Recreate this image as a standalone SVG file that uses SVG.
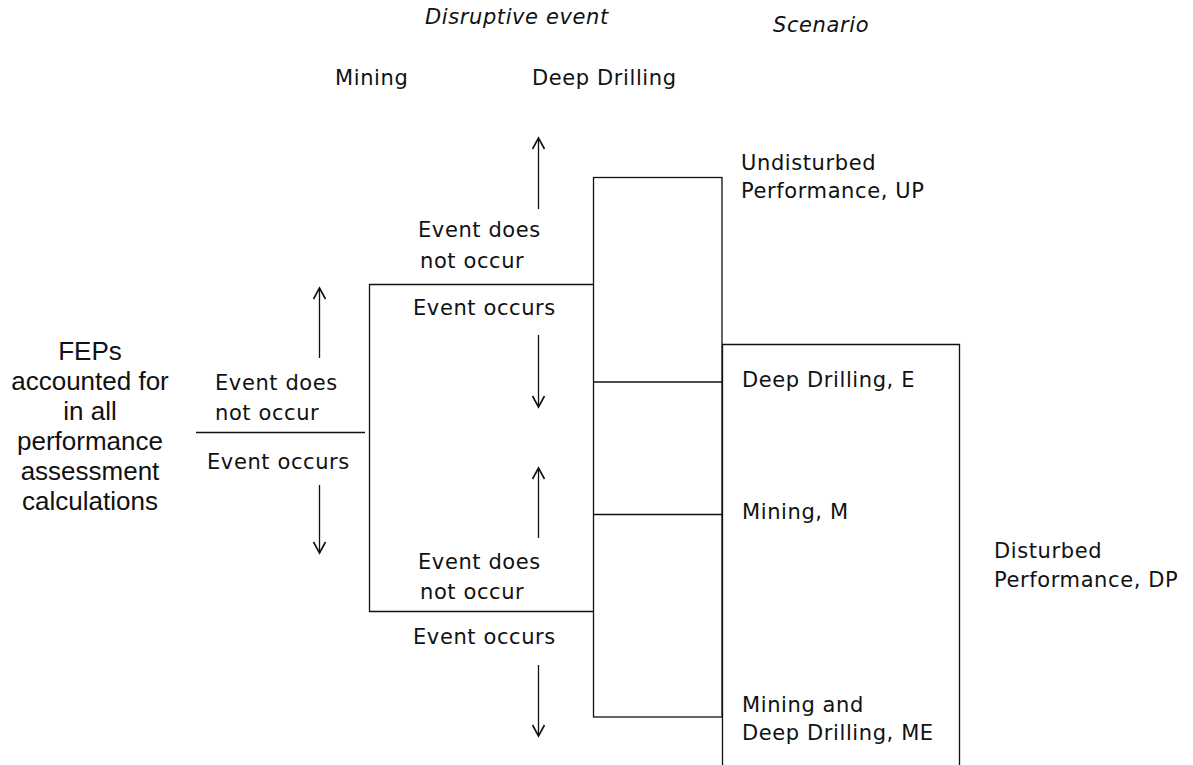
<svg xmlns="http://www.w3.org/2000/svg" width="1193" height="765" viewBox="0 0 1193 765">
  <style>
    .lbl { font-family: "DejaVu Sans", "Liberation Sans", sans-serif; font-size: 21px; letter-spacing: 0.6px; fill: #111; }
    .hdr { font-style: italic; }
    .fep { font-family: "Liberation Sans", Arial, sans-serif; font-size: 26px; fill: #111; text-anchor: middle; }
    .ln { stroke: #111; stroke-width: 1.3; fill: none; }
    .arr { stroke: #111; stroke-width: 1.3; fill: none; marker-end: url(#vhead); }
  </style>
  <defs>
    <!-- open V arrowhead -->
    <marker id="vhead" markerUnits="userSpaceOnUse" markerWidth="16" markerHeight="16" viewBox="-13 -8 16 16" refX="0" refY="0" orient="auto">
      <path d="M-11,-6 L0,0 L-11,6" fill="none" stroke="#111" stroke-width="1.6"/>
    </marker>
  </defs>
  <rect width="1193" height="765" fill="#fff"/>

  <!-- column headings -->
  <g id="heading-event">
    <text class="lbl hdr" x="425" y="24">Disruptive event</text>
  </g>
  <g id="heading-scenario">
    <text class="lbl hdr" x="773" y="32">Scenario</text>
  </g>
  <g id="heading-mining">
    <text class="lbl" x="335" y="85">Mining</text>
  </g>
  <g id="heading-drilling">
    <text class="lbl" x="532" y="85">Deep Drilling</text>
  </g>

  <!-- root -->
  <g id="feps">
    <text class="fep" x="90" y="360">FEPs</text>
    <text class="fep" x="90" y="390">accounted for</text>
    <text class="fep" x="90" y="420">in all</text>
    <text class="fep" x="90" y="450">performance</text>
    <text class="fep" x="90" y="480">assessment</text>
    <text class="fep" x="90" y="510">calculations</text>
  </g>

  <!-- mining branch -->
  <g id="mining-branch">
    <text class="lbl" x="215" y="390">Event does</text>
    <text class="lbl" x="215" y="420">not occur</text>
    <text class="lbl" x="207" y="469">Event occurs</text>
  </g>

  <!-- deep drilling branch, no mining -->
  <g id="drilling-branch-upper">
    <text class="lbl" x="418" y="237">Event does</text>
    <text class="lbl" x="420" y="268">not occur</text>
    <text class="lbl" x="413" y="315">Event occurs</text>
  </g>

  <!-- deep drilling branch, with mining -->
  <g id="drilling-branch-lower">
    <text class="lbl" x="418" y="569">Event does</text>
    <text class="lbl" x="420" y="599">not occur</text>
    <text class="lbl" x="413" y="644">Event occurs</text>
  </g>

  <!-- scenarios -->
  <g id="scenario-up">
    <text class="lbl" x="741" y="170">Undisturbed</text>
    <text class="lbl" x="741" y="198">Performance, UP</text>
  </g>
  <g id="scenario-e">
    <text class="lbl" x="742" y="387">Deep Drilling, E</text>
  </g>
  <g id="scenario-m">
    <text class="lbl" x="742" y="519">Mining, M</text>
  </g>
  <g id="scenario-me">
    <text class="lbl" x="742" y="712">Mining and</text>
    <text class="lbl" x="742" y="740">Deep Drilling, ME</text>
  </g>
  <g id="scenario-dp">
    <text class="lbl" x="994" y="558">Disturbed</text>
    <text class="lbl" x="994" y="587">Performance, DP</text>
  </g>

  <!-- brackets and arrows -->
  <g id="connectors">
    <line class="ln" x1="196" y1="432.5" x2="365" y2="432.5"/>
    <path class="ln" d="M593,284.5 H369.5 V611.5 H593"/>
    <rect class="ln" x="593.5" y="177.5" width="128.5" height="539.5"/>
    <line class="ln" x1="593.5" y1="382" x2="722" y2="382"/>
    <line class="ln" x1="593.5" y1="514.5" x2="722" y2="514.5"/>
    <path class="ln" d="M722.5,766 V344.5 H959.5 V766"/>

    <line class="arr" x1="319.5" y1="358" x2="319.5" y2="288"/>
    <line class="arr" x1="319.5" y1="485" x2="319.5" y2="553"/>
    <line class="arr" x1="538.5" y1="209" x2="538.5" y2="138"/>
    <line class="arr" x1="538.5" y1="335" x2="538.5" y2="407"/>
    <line class="arr" x1="538.5" y1="538" x2="538.5" y2="468"/>
    <line class="arr" x1="538.5" y1="665" x2="538.5" y2="736"/>
  </g>
</svg>
